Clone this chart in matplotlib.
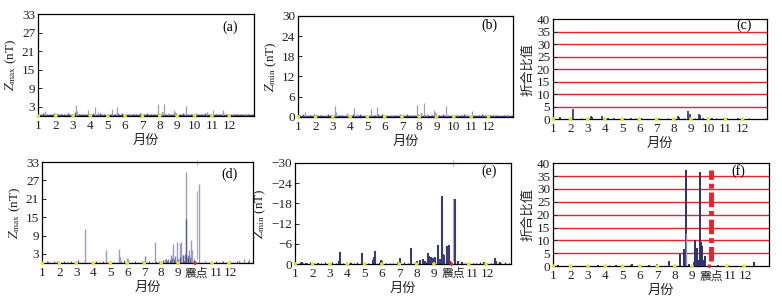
import matplotlib
matplotlib.use('Agg')
import matplotlib.pyplot as plt
import numpy as np

plt.rcParams['font.family'] = ['Liberation Serif', 'Noto Sans CJK SC']
plt.rcParams['mathtext.fontset'] = 'stix'
plt.rcParams['font.size'] = 9

# month ticks
months = [1, 2, 3, 4, 5, 6, 7, 8, 9, 10, 11, 12]
month_labels = ['1', '2', '3', '4', '5', '6', '7', '8', '9', '10', '11', '12']
# in the earthquake year the 10th label is the epicentre marker; labels after it sit a bit to the right
eq_label_pos = [1, 2, 3, 4, 5, 6, 7, 8, 9, 10.1, 11.22, 12.1]
month_labels_eq = ['1', '2', '3', '4', '5', '6', '7', '8', '9', '震点', '11', '12']
eq_month = 10.1

# (a) Zmax, reference year: spikes (month, nT)
a_x = [1.39, 2.05, 2.6, 3.17, 3.22, 3.84, 4.26, 4.45, 5.22, 5.54, 6.3, 6.9, 7.90, 8.10, 8.22,
       8.45, 8.80, 8.90, 9.53, 10.1, 10.70, 11.06, 11.67, 12.2, 12.9]
a_h = [1.7, 1.0, 0.8, 3.6, 1.5, 2.0, 2.8, 1.2, 2.2, 2.8, 0.8, 1.0, 3.9, 1.2, 3.9,
       1.0, 2.0, 1.3, 3.4, 0.9, 1.3, 2.0, 1.8, 0.7, 0.6]
a_base = [0.6, 0.9, 0.5, 0.7, 1.1, 0.6, 0.8, 0.5, 0.9, 0.7, 1.2, 0.6, 0.8, 0.5, 0.7, 0.9, 0.6, 1.0,
          0.5, 0.8, 0.7, 0.6, 0.9, 1.1, 0.7, 0.5, 0.8, 0.6, 0.9, 0.7, 1.0, 0.6, 0.8, 0.9, 1.2, 0.7,
          0.6, 0.8, 1.0, 0.7, 0.9, 0.6, 0.5, 0.8, 0.7, 0.6, 0.9, 0.5, 0.7, 0.8, 0.6, 0.9, 0.5, 0.7,
          0.6, 0.8, 0.5, 0.7, 0.6, 0.5]

# (b) Zmin, reference year
b_x = [1.38, 2.04, 2.6, 3.10, 3.18, 3.8, 4.21, 4.40, 5.18, 5.57, 6.4, 6.9, 7.88, 8.10, 8.26,
       8.45, 8.84, 8.92, 9.55, 10.2, 10.7, 11.06, 11.79, 12.3, 13.1]
b_h = [1.4, 1.0, 0.7, 3.3, 1.5, 1.2, 2.6, 1.0, 2.3, 2.9, 0.6, 0.9, 3.6, 1.2, 4.2,
       0.9, 2.0, 1.5, 3.3, 0.8, 1.0, 1.8, 1.0, 0.6, 0.6]
b_base = [0.5, 0.8, 0.4, 0.6, 1.0, 0.5, 0.7, 0.4, 0.8, 0.6, 1.0, 0.5, 0.7, 0.4, 0.6, 0.8, 0.5, 0.9,
          0.4, 0.7, 0.6, 0.5, 0.8, 1.0, 0.6, 0.4, 0.7, 0.5, 0.8, 0.6, 0.9, 0.5, 0.7, 0.8, 1.1, 0.6,
          0.5, 0.7, 0.9, 0.6, 0.8, 0.5, 0.4, 0.7, 0.6, 0.5, 0.8, 0.4, 0.6, 0.7, 0.5, 0.8, 0.4, 0.6,
          0.5, 0.7, 0.4, 0.6, 0.5, 0.4]

# (c) ratio, reference year
c_x = [1.4, 2.12, 3.17, 3.25, 3.86, 4.2, 4.5, 5.0, 5.5, 6.1, 7.1, 8.24, 8.3, 8.85, 8.92,
       9.49, 9.55, 9.7, 10.2, 10.9, 11.1, 11.7]
c_h = [0.7, 3.9, 1.2, 0.8, 1.2, 0.6, 0.6, 0.5, 0.5, 0.4, 0.5, 1.2, 0.8, 3.2, 2.2,
       2.0, 1.5, 0.6, 0.5, 0.6, 0.5, 0.4]
c_base = [0.2, 0.4, 0.1, 0.3, 0.2, 0.4, 0.3, 0.1, 0.2, 0.3, 0.4, 0.2, 0.1, 0.3, 0.2, 0.4, 0.3, 0.2,
          0.1, 0.3, 0.2, 0.4, 0.2, 0.1, 0.3, 0.2, 0.3, 0.1, 0.2, 0.4, 0.3, 0.2, 0.1, 0.2, 0.3, 0.2,
          0.4, 0.1, 0.2, 0.3]

# (d) Zmax, earthquake year
d_x = [1.35, 3.49, 4.74, 5.50, 5.54, 5.60, 5.96, 6.05, 7.63, 8.20, 8.70, 8.93, 9.12, 9.18,
       9.30, 9.48, 9.55, 9.62, 9.77, 9.82, 10.26, 10.6, 11.6, 12.6, 12.9, 13.15]
d_h = [0.8, 11.2, 4.3, 1.5, 4.6, 2.0, 1.7, 1.2, 6.8, 1.2, 6.3, 7.0, 6.6, 6.8,
       2.5, 29.7, 1.9, 4.4, 7.7, 4.3, 25.7, 0.8, 0.8, 1.0, 1.2, 1.3]
d_dark_x = [7.04, 8.27, 8.41, 8.60, 8.66, 8.80, 8.99, 9.09, 9.28, 9.42, 9.48, 9.57, 9.71, 9.96]
d_dark_h = [2.2, 1.2, 1.5, 2.5, 1.8, 2.2, 1.5, 2.0, 2.5, 3.0, 14.4, 2.8, 2.0, 1.5]
d_base = [0.5, 0.7, 0.4, 0.6, 0.8, 0.5, 0.6, 0.4, 0.7, 0.5, 0.9, 0.5, 0.6, 0.4, 0.5, 0.7, 0.5, 0.8,
          0.4, 0.6, 0.5, 0.4, 0.7, 0.9, 0.6, 0.4, 0.6, 0.5, 0.7, 0.6, 0.8, 0.5, 0.6, 0.7, 1.0, 0.6,
          0.9, 1.2, 1.0, 1.1, 0.8, 1.3, 0.9, 0.6, 0.5, 0.4, 0.7, 0.4, 0.5, 0.6, 0.5, 0.7, 0.4, 0.6,
          0.5, 0.7, 0.4, 0.6, 0.8, 0.5]

# (e) Zmin, earthquake year (negative axis, plotted as magnitude)
e_x = [1.38, 1.6, 2.3, 3.52, 3.59, 4.2, 4.83, 5.50, 5.55, 5.59, 5.95, 6.02, 7.02, 7.05, 7.65,
       8.0, 8.2, 8.35, 8.5, 8.64, 8.70, 8.85, 8.95, 9.05, 9.25, 9.32, 9.46, 9.52, 9.6, 9.74,
       9.84, 9.92, 10.22, 10.4, 10.6, 11.0, 11.9, 12.5, 12.6, 12.8]
e_h = [0.7, 0.4, 0.3, 0.8, 3.7, 0.4, 3.2, 1.2, 2.0, 3.9, 1.3, 1.0, 1.8, 1.2, 4.7,
       0.8, 1.2, 1.5, 1.0, 3.2, 2.3, 2.0, 1.8, 2.2, 5.6, 1.5, 20.2, 3.0, 2.8, 5.2,
       5.5, 1.0, 19.2, 0.8, 0.6, 0.4, 0.6, 1.8, 1.0, 0.6]
e_base = [0.3, 0.5, 0.2, 0.4, 0.6, 0.3, 0.4, 0.2, 0.5, 0.3, 0.6, 0.3, 0.4, 0.2, 0.3, 0.5, 0.3, 0.6,
          0.2, 0.4, 0.3, 0.2, 0.5, 0.6, 0.4, 0.2, 0.4, 0.3, 0.5, 0.4, 0.6, 0.3, 0.4, 0.5, 0.7, 0.4,
          0.6, 0.8, 0.7, 0.8, 0.5, 0.9, 0.6, 0.4, 0.3, 0.2, 0.5, 0.2, 0.3, 0.4, 0.3, 0.5, 0.2, 0.4,
          0.3, 0.5, 0.2, 0.4, 0.6, 0.3]

# (f) ratio, earthquake year
f_x = [1.3, 2.5, 3.57, 4.6, 5.48, 5.52, 6.5, 6.98, 7.65, 8.28, 8.55, 8.63, 8.8, 9.09,
       9.19, 9.28, 9.38, 9.44, 9.50, 9.58, 9.68, 9.77, 10.5, 11.0, 12.6]
f_h = [0.3, 0.2, 0.6, 0.3, 0.5, 0.7, 0.3, 0.7, 2.1, 4.7, 6.5, 37.5, 1.0, 1.5,
       10.0, 7.2, 2.5, 36.6, 9.5, 8.0, 2.5, 3.8, 0.4, 0.3, 1.6]
f_light_x = [8.67]
f_light_h = [13.0]
f_base = [0.1, 0.2, 0.1, 0.3, 0.1, 0.2, 0.2, 0.1, 0.1, 0.2, 0.3, 0.1, 0.2, 0.1, 0.2, 0.1, 0.3, 0.2,
          0.1, 0.2, 0.1, 0.2, 0.3, 0.1, 0.2, 0.1, 0.2, 0.3, 0.2, 0.1, 0.2, 0.1, 0.3, 0.2, 0.1, 0.2,
          0.1, 0.2, 0.1, 0.2]

navy = '#2f2f72'
lav = '#9c9cc0'
yellow = '#f2e312'
red = '#e8222a'

fig = plt.figure(figsize=(7.82, 2.99), dpi=100)
pos = {
    'a': [0.0486, 0.612, 0.276, 0.341],
    'b': [0.381, 0.609, 0.275, 0.338],
    'c': [0.707, 0.602, 0.274, 0.334],
    'd': [0.0537, 0.120, 0.270, 0.338],
    'e': [0.377, 0.117, 0.276, 0.338],
    'f': [0.707, 0.110, 0.276, 0.344],
}
label_xy = {'a': (0.89, 0.87), 'b': (0.89, 0.91), 'c': (0.89, 0.94),
            'd': (0.89, 0.88), 'e': (0.90, 0.92), 'f': (0.86, 0.925)}
zmax_label = r'$Z_{\rm max}$ (nT)'
zmin_label = r'$Z_{\rm min}$ (nT)'
ratio_label = '折合比值'


def setup(ax, key, yticks, ylabel, eq=False):
    ax.set_xlim(0.98, 13.42)
    if eq:
        ax.set_xticks(eq_label_pos)
        ax.set_xticklabels(month_labels_eq)
        ax.tick_params(axis='x', length=0, pad=3, labelsize=9.5, colors='#222222')
        ax.get_xticklabels()[9].set_fontsize(8.5)
    else:
        ax.set_xticks(months)
        ax.set_xticklabels(month_labels)
        ax.tick_params(axis='x', length=0, pad=3, labelsize=9.5, colors='#222222')
    ax.set_yticks(yticks)
    ax.tick_params(axis='y', direction='in', length=3, width=0.7, pad=2, labelsize=9.5, colors='#222222')
    ax.set_xlabel('月份', fontsize=9.5, labelpad=2, color='#222222')
    ax.set_ylabel(ylabel, fontsize=9.5, labelpad=2, color='#222222')
    for s in ax.spines.values():
        s.set_linewidth(0.9)
    ax.text(label_xy[key][0], label_xy[key][1], '(' + key + ')', transform=ax.transAxes,
            ha='center', va='center', fontsize=10)
    dot_colors = [yellow] * 12
    if eq:
        dot_colors[9] = red
    y0 = ax.get_ylim()[0]
    ax.scatter(months, [y0] * 12, s=7, c=dot_colors, zorder=6, clip_on=False, linewidths=0)


def base_x(vals):
    return np.linspace(1.05, 13.3, len(vals))


# (a)
ax = fig.add_axes(pos['a'])
ax.set_ylim(0, 33)
ax.vlines(base_x(a_base), 0, a_base, color=navy, lw=1.0, alpha=0.8)
ax.axhline(0, color='#4a4a88', lw=2.5)
ax.vlines(a_x, 0, a_h, color=lav, lw=0.9)
setup(ax, 'a', [3, 9, 15, 21, 27, 33], zmax_label)

# (b)
ax = fig.add_axes(pos['b'])
ax.set_ylim(0, 30)
ax.vlines(base_x(b_base), 0, b_base, color=navy, lw=1.0, alpha=0.8)
ax.axhline(0, color='#4a4a88', lw=2.5)
ax.vlines(b_x, 0, b_h, color=lav, lw=0.9)
setup(ax, 'b', [0, 6, 12, 18, 24, 30], zmin_label)

# (c)
ax = fig.add_axes(pos['c'])
ax.set_ylim(0, 40)
for g in [5, 10, 15, 20, 25, 30, 35]:
    ax.axhline(g, color=red, lw=1.0, zorder=1)
ax.vlines(base_x(c_base), 0, c_base, color=navy, lw=0.8)
ax.vlines(c_x, 0, c_h, color=navy, lw=1.2, zorder=3)
setup(ax, 'c', [0, 5, 10, 15, 20, 25, 30, 35, 40], ratio_label)

# (d)
ax = fig.add_axes(pos['d'])
ax.set_ylim(0, 33)
ax.vlines(base_x(d_base), 0, d_base, color=navy, lw=0.9, alpha=0.8)
ax.vlines(d_x, 0, d_h, color=lav, lw=1.0)
ax.vlines(d_dark_x, 0, d_dark_h, color=navy, lw=1.0, alpha=0.6)
ax.vlines(eq_month, 1.5, 23.7, color='#f09090', lw=0.7)
ax.vlines(eq_month, 32.2, 33.8, color='#f09090', lw=0.7, clip_on=False)
setup(ax, 'd', [3, 9, 15, 21, 27, 33], zmax_label, eq=True)

# (e)
ax = fig.add_axes(pos['e'])
ax.set_ylim(0, -30)
ax.vlines(base_x(e_base), 0, -np.array(e_base), color=navy, lw=0.9)
ax.vlines(e_x, 0, -np.array(e_h), color='#3a3a7c', lw=1.5)
ax.vlines(eq_month, -1.0, -19.5, color='#f09090', lw=0.7)
ax.vlines(eq_month, -29.0, -30.8, color='#f09090', lw=0.7, clip_on=False)
setup(ax, 'e', [0, -6, -12, -18, -24, -30], zmin_label, eq=True)

# (f)
ax = fig.add_axes(pos['f'])
ax.set_ylim(0, 40)
for g in [5, 10, 15, 20, 25, 30, 35]:
    ax.axhline(g, color=red, lw=1.0, zorder=1)
ax.vlines(base_x(f_base), 0, f_base, color=navy, lw=0.8)
ax.vlines(f_x, 0, f_h, color=navy, lw=1.4, zorder=3)
ax.vlines(f_light_x, 0, f_light_h, color='#9090b8', lw=1.0, zorder=3)
ax.vlines(eq_month, 2.0, 37.2, color=red, lw=3.5, zorder=4, linestyles=[(0, (3, 0.8, 1, 0.8))])
setup(ax, 'f', [0, 5, 10, 15, 20, 25, 30, 35, 40], ratio_label, eq=True)

fig.savefig('out.png', dpi=100)
